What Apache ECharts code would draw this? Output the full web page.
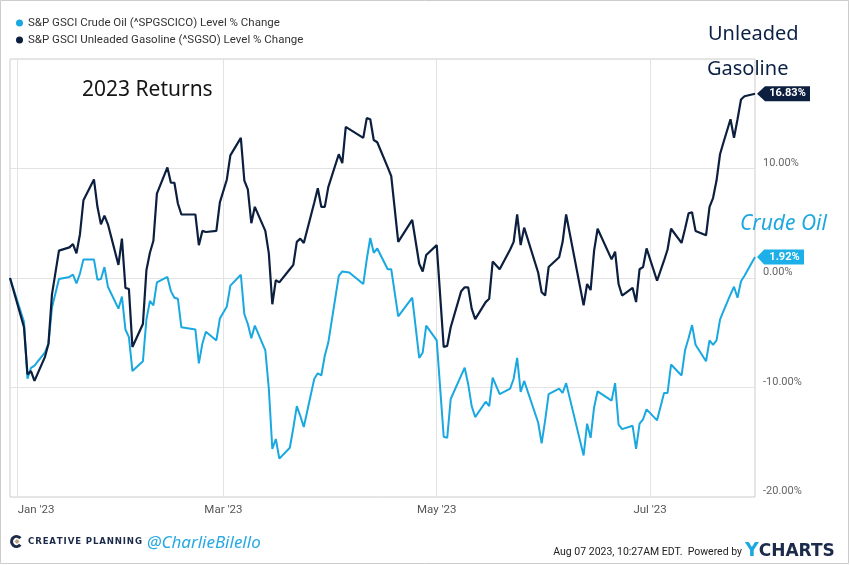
<!DOCTYPE html>
<html>
<head>
<meta charset="utf-8">
<script src="https://cdn.jsdelivr.net/npm/echarts@6/dist/echarts.min.js"></script>
<style>html,body{margin:0;padding:0;background:#fff}#c{width:850px;height:565px}</style>
</head>
<body>
<div id="c"></div>
<script>
// ---- DATA ----
const seriesNames = [
  'S&P GSCI Crude Oil (^SPGSCICO) Level % Change',
  'S&P GSCI Unleaded Gasoline (^SGSO) Level % Change'
];
const dates = [
  '2022-12-30',
  '2023-01-03','2023-01-04','2023-01-05','2023-01-06','2023-01-09','2023-01-10','2023-01-11','2023-01-13','2023-01-16','2023-01-17',
  '2023-01-18','2023-01-19','2023-01-20','2023-01-23','2023-01-24','2023-01-25','2023-01-26','2023-01-27','2023-01-30','2023-01-31',
  '2023-02-01','2023-02-02','2023-02-03','2023-02-06','2023-02-07','2023-02-08','2023-02-09','2023-02-10','2023-02-13','2023-02-14',
  '2023-02-15','2023-02-16','2023-02-17','2023-02-21','2023-02-22','2023-02-23','2023-02-24','2023-02-27','2023-02-28',
  '2023-03-02','2023-03-03','2023-03-06','2023-03-07','2023-03-08','2023-03-09','2023-03-10','2023-03-13','2023-03-14','2023-03-15',
  '2023-03-16','2023-03-17','2023-03-20','2023-03-21','2023-03-22','2023-03-23','2023-03-24','2023-03-27','2023-03-28','2023-03-29',
  '2023-03-30','2023-03-31',
  '2023-04-03','2023-04-04','2023-04-05','2023-04-06','2023-04-10','2023-04-11','2023-04-12','2023-04-13','2023-04-14','2023-04-17',
  '2023-04-18','2023-04-20','2023-04-24','2023-04-26','2023-04-27','2023-04-28',
  '2023-05-01','2023-05-03','2023-05-04','2023-05-05','2023-05-08','2023-05-09','2023-05-10','2023-05-11','2023-05-12','2023-05-15',
  '2023-05-16','2023-05-17','2023-05-19','2023-05-22','2023-05-23','2023-05-24','2023-05-25','2023-05-26','2023-05-30','2023-05-31',
  '2023-06-01','2023-06-02','2023-06-05','2023-06-06','2023-06-07','2023-06-12','2023-06-13','2023-06-14','2023-06-15','2023-06-16',
  '2023-06-20','2023-06-21','2023-06-22','2023-06-23','2023-06-26','2023-06-27','2023-06-28','2023-06-29','2023-06-30',
  '2023-07-03','2023-07-05','2023-07-06','2023-07-07','2023-07-10','2023-07-11','2023-07-12','2023-07-13','2023-07-14','2023-07-17',
  '2023-07-18','2023-07-19','2023-07-20','2023-07-21','2023-07-22','2023-07-24','2023-07-25','2023-07-26','2023-07-27','2023-07-28',
  '2023-07-31'
];
const crudeOil = [
  0,
  -4.0,-9.2,-8.2,-8.0,-6.8,-6.0,-2.7,-0.1,0.1,0.3,
  -0.5,0.4,1.7,1.7,-0.15,-0.1,1.0,-0.8,-2.8,-1.7,
  -4.7,-5.4,-8.5,-7.6,-3.8,-2.1,-2.5,-0.4,0.1,-1.2,
  -1.8,-1.9,-4.5,-4.7,-7.8,-6.0,-4.9,-5.7,-3.7,
  -2.6,-0.7,0.3,-3.3,-4.2,-5.5,-4.35,-6.6,-10.1,-15.6,
  -14.7,-16.5,-15.5,-13.7,-11.7,-12.6,-13.6,-9.2,-8.7,-8.9,
  -7.1,-5.9,
  0.2,0.6,0.55,0.5,-0.55,1.7,3.65,2.3,2.7,0.8,
  0.8,-3.5,-1.8,-7.3,-6.8,-4.35,
  -5.7,-14.5,-14.6,-11.05,-8.9,-8.2,-9.7,-11.7,-12.7,-11.3,
  -11.7,-9.1,-10.6,-10.1,-9.2,-7.3,-10.4,-9.4,-13.2,-15.1,
  -13.0,-10.6,-10.1,-10.5,-9.6,-16.2,-13.3,-14.6,-11.8,-10.35,
  -11.2,-9.6,-13.4,-13.8,-13.5,-15.6,-13.3,-12.9,-12.0,
  -13.0,-10.5,-10.5,-7.9,-8.9,-6.6,-5.5,-4.3,-6.1,-7.6,
  -5.7,-6.1,-5.7,-3.8,-3.0,-1.5,-0.8,-1.8,-0.3,0.2,
  1.92
];
const gasoline = [
  0,
  -4.5,-8.8,-8.5,-9.4,-7.2,-6.0,-1.5,2.5,2.8,3.1,
  2.25,4.0,7.1,9.0,6.5,4.9,5.7,4.9,1.2,3.6,
  -0.9,-1.0,-6.3,-4.2,0.7,2.3,3.4,7.7,10.1,8.7,
  8.7,6.8,5.8,5.8,3.0,4.3,4.2,4.3,6.9,
  9.0,11.2,12.8,8.9,8.1,5.0,6.5,4.3,2.25,-2.4,
  -0.2,-0.4,0.8,1.2,3.3,3.6,3.2,6.9,8.2,6.5,
  6.5,8.3,
  11.3,10.5,13.8,13.6,12.8,14.6,14.5,12.6,12.4,10.1,
  9.3,3.3,5.3,1.3,0.6,2.1,
  3.0,-6.3,-6.2,-4.5,-1.2,-0.85,-0.85,-2.8,-3.75,-2.2,
  -1.9,1.5,0.8,2.6,3.3,5.8,3.0,4.6,0.5,-1.3,
  -1.6,1.0,1.9,3.3,5.8,-2.5,-0.55,-1.1,2.5,4.5,
  1.7,2.4,-0.55,-1.6,-0.9,-2.2,0.8,1.0,2.7,
  -0.25,1.6,2.6,4.5,3.2,4.5,5.9,6.0,4.3,3.9,
  6.5,7.3,8.9,11.3,12.4,14.5,12.8,14.5,16.3,16.6,
  16.83
];
const xTickDates = ['2023-01-01','2023-03-01','2023-05-01','2023-07-01'];
const xTickLabels = ["Jan '23","Mar '23","May '23","Jul '23"];
const yTicks = [-20, -10, 0, 10, 20];

// ---- helpers ----
function ts(s){const p=s.split('-').map(Number);return new Date(p[0],p[1]-1,p[2]).getTime();}
const CRUDE='#1aa8e0', GAS='#0c1f3f';
const last = dates.length-1;
const crudeData = dates.map((d,i)=>[d, crudeOil[i]]);
const gasData = dates.map((d,i)=>[d, gasoline[i]]);
const FONT='Roboto';

function tag(color, val, w){
  return {
    symbol: 'path://M0,7.5L8,0L53,0L53,15L8,15Z',
    symbolSize: [w, 15], symbolKeepAspect: false,
    symbolOffset: [w/2 + 2, 0],
    itemStyle: {color: color},
    label: {show: true, position: 'inside', offset: [4, 0], color: '#fff', fontWeight: 'bold',
            fontSize: 11, fontFamily: FONT, formatter: val.toFixed(2) + '%'},
    data: [{coord: [dates[last], val]}],
    silent: true, animation: false
  };
}

const chart = echarts.init(document.getElementById('c'), null, {renderer: 'canvas'});
chart.setOption({
  animation: false,
  backgroundColor: '#fff',
  textStyle: {fontFamily: FONT},
  legend: {
    data: seriesNames, orient: 'vertical', left: 16, top: 17, padding: 0, itemGap: 5,
    icon: 'circle', itemWidth: 7, itemHeight: 7,
    textStyle: {color: '#333', fontSize: 11.5, fontFamily: FONT}
  },
  grid: {left: 10, right: 95, top: 59, bottom: 68, show: true, borderColor: '#cccccc', borderWidth: 1},
  xAxis: {
    type: 'time', min: ts(dates[0]), max: ts(dates[last]),
    axisLine: {show: false}, axisTick: {show: false}, splitLine: {show: false},
    axisLabel: {show: false}
  },
  yAxis: {
    type: 'value', position: 'right', min: yTicks[0], max: yTicks[yTicks.length-1], interval: 10,
    axisLine: {show: false}, axisTick: {show: false},
    splitLine: {lineStyle: {color: '#e3e3e3', width: 1}},
    axisLabel: {
      color: '#666', fontSize: 11, margin: 8, verticalAlign: 'bottom', fontFamily: FONT,
      formatter: v => (v >= yTicks[yTicks.length-1] ? '' : v.toFixed(2) + '%')
    }
  },
  series: [
    {
      type: 'line', data: [], silent: true, z: 1,
      markLine: {
        silent: true, symbol: 'none', z: 1, animation: false,
        label: {show: true, position: 'start', distance: 7, color: '#555', fontSize: 11.5, fontFamily: FONT,
                formatter: p => p.name,
                rich: {f: {padding: [0,0,0,38], color: '#555', fontSize: 11.5, fontFamily: FONT}}},
        lineStyle: {color: '#e3e3e3', type: 'solid', width: 1},
        data: xTickDates.map((d, i) => ({xAxis: ts(d), name: i === 0 ? '{f|' + xTickLabels[i] + '}' : xTickLabels[i]}))
      }
    },
    {
      name: seriesNames[0], type: 'line', data: crudeData, showSymbol: false, z: 3,
      color: CRUDE, lineStyle: {width: 2, color: CRUDE},
      markPoint: tag('#1db0e8', crudeOil[last], 47)
    },
    {
      name: seriesNames[1], type: 'line', data: gasData, showSymbol: false, z: 4,
      color: GAS, lineStyle: {width: 2.2, color: GAS},
      markPoint: tag(GAS, gasoline[last], 53)
    }
  ],
  graphic: [
    {type: 'rect', silent: true, z: 100, shape: {x: 0.5, y: 0.5, width: 848, height: 563},
     style: {fill: 'none', stroke: '#cccccc', lineWidth: 1}},
    {type: 'text', silent: true, z: 50, style: {x: 82, y: 90.5, text: '2023 Returns', fill: '#151515',
     font: '21px "Noto Sans"', verticalAlign: 'middle'}},
    {type: 'text', silent: true, z: 50, style: {x: 708, y: 34, text: 'Unleaded', fill: '#0b2045',
     font: '20px "Noto Sans"', verticalAlign: 'middle'}},
    {type: 'text', silent: true, z: 50, style: {x: 707, y: 69, text: 'Gasoline', fill: '#0b2045',
     font: '20px "Noto Sans"', verticalAlign: 'middle'}},
    {type: 'text', silent: true, z: 50, style: {x: 740, y: 224, text: 'Crude Oil', fill: '#1ea8df',
     font: 'italic 21px "Noto Sans"', verticalAlign: 'middle'}},
    {type: 'arc', silent: true, z: 50, shape: {cx: 16.5, cy: 541.5, r: 5, startAngle: 0.7, endAngle: Math.PI*2-0.7, clockwise: true},
     style: {stroke: '#1c2b49', lineWidth: 3, fill: 'none'}},
    {type: 'polygon', silent: true, z: 50, shape: {points: [[17,539],[19.5,541.5],[17,544],[14.5,541.5]]},
     style: {fill: '#b8a27a'}},
    {type: 'text', silent: true, z: 50, style: {x: 28, y: 541.5, text: 'CREATIVE PLANNING'.split('').join('\u200A'), fill: '#1c2b49',
     font: 'bold 8.6px "DejaVu Sans"', verticalAlign: 'middle'}},
    {type: 'text', silent: true, z: 50, style: {x: 147, y: 543, text: '@CharlieBilello', fill: '#27a9e1',
     font: 'italic 17px "Noto Sans"', verticalAlign: 'middle'}},
    {type: 'text', silent: true, z: 50, style: {x: 742, y: 552, text: 'Aug 07 2023, 10:27AM EDT.  Powered by', fill: '#222',
     font: '10.5px Roboto', align: 'right', verticalAlign: 'middle'}},
    {type: 'text', silent: true, z: 50, style: {x: 745, y: 551.5, text: '{y|Y}{c|CHARTS}', verticalAlign: 'middle',
     rich: {y: {fill: '#1ea8df', font: 'bold 19px "DejaVu Sans"'}, c: {fill: '#1c2b49', font: 'bold 17px "DejaVu Sans"'}}}}
  ]
});
</script>
</body>
</html>
